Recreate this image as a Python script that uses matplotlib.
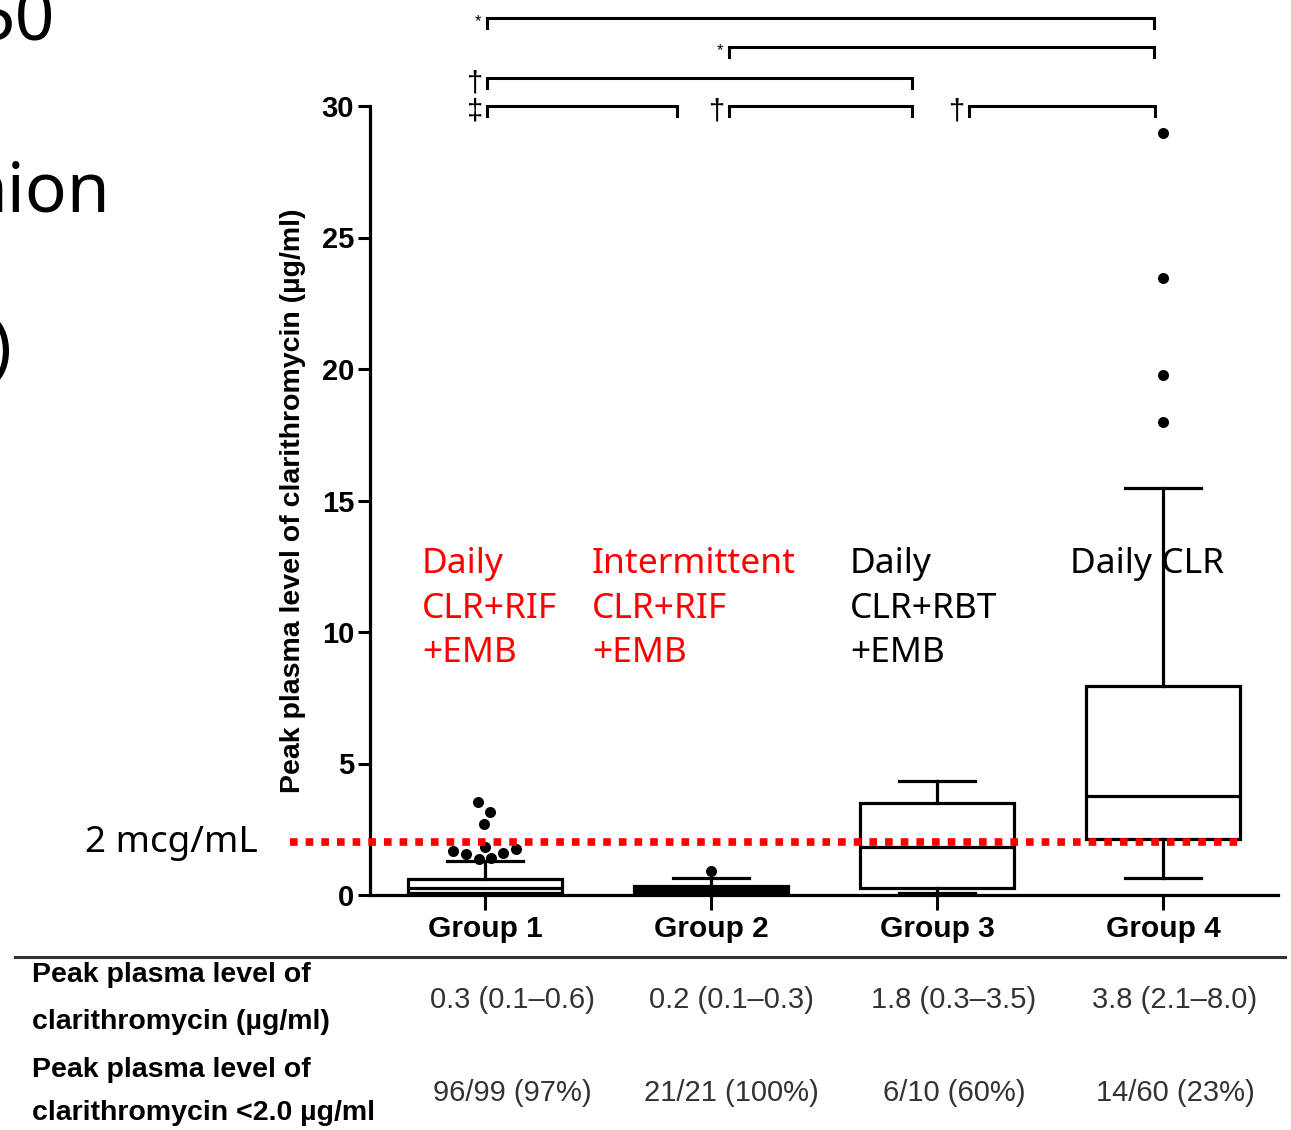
import matplotlib
matplotlib.use('Agg')
import matplotlib.pyplot as plt

# box statistics (ug/ml)
groups = ['Group 1', 'Group 2', 'Group 3', 'Group 4']
whislo = [0.0, 0.0, 0.08, 0.65]
q1 = [0.07, 0.05, 0.27, 2.13]
med = [0.25, 0.20, 1.82, 3.76]
q3 = [0.60, 0.36, 3.50, 7.95]
whishi = [1.29, 0.65, 4.33, 15.48]
fliers_y = [[3.54, 3.16, 2.70, 1.83, 1.67, 1.56, 1.37, 1.41, 1.60, 1.75],
            [0.91],
            [],
            [28.97, 23.46, 19.77, 17.98]]
fliers_dx = [[-0.031, 0.022, -0.004, 0.0, -0.142, -0.084, -0.027, 0.027, 0.080, 0.137],
             [0.0],
             [],
             [0.0, 0.0, 0.0, 0.0]]

threshold = 2.0
threshold_label = '2 mcg/mL'

# significance brackets: (start, end, level, symbol)
brackets = [(1.01, 3.96, 33.35, '*'),
            (2.08, 3.96, 32.24, '*'),
            (1.01, 2.89, 31.06, '\u2020'),
            (1.01, 1.85, 30.0, '\u2021'),
            (2.08, 2.89, 30.0, '\u2020'),
            (3.14, 3.965, 30.0, '\u2020')]

regimens = [['Daily', 'CLR+RIF', '+EMB'],
            ['Intermittent', 'CLR+RIF', '+EMB'],
            ['Daily', 'CLR+RBT', '+EMB'],
            ['Daily CLR']]
regimen_colors = ['#ff0000', '#ff0000', 'black', 'black']

row_labels = [['Peak plasma level of', 'clarithromycin (\u00b5g/ml)'],
              ['Peak plasma level of', 'clarithromycin <2.0 \u00b5g/ml']]
median_iqr = ['0.3 (0.1\u20130.6)', '0.2 (0.1\u20130.3)', '1.8 (0.3\u20133.5)', '3.8 (2.1\u20138.0)']
below_2 = ['96/99 (97%)', '21/21 (100%)', '6/10 (60%)', '14/60 (23%)']

# cut-off slide text on the left edge
slide_bits = ['50', 'nion', ')']

#########################

W, H = 1291, 1130
fig = plt.figure(figsize=(W / 100, H / 100), dpi=100)

def fx(x):
    return x / W

def fy(y):
    return 1 - y / H

ax = fig.add_axes([fx(370), fy(895), (1278 - 370) / W, (895 - 106) / H])
ax.set_xlim(0.491, 4.509)
ax.set_ylim(0, 30)

pos = [1, 2, 3, 4]
stats = []
for i in range(4):
    stats.append({'whislo': whislo[i], 'q1': q1[i], 'med': med[i], 'q3': q3[i],
                  'whishi': whishi[i], 'fliers': []})

lw = 2.3
bp = ax.bxp(stats, positions=pos, widths=0.68, capwidths=0.34, patch_artist=True,
            showfliers=False,
            boxprops=dict(linewidth=lw, edgecolor='black', facecolor='white'),
            medianprops=dict(linewidth=lw, color='black'),
            whiskerprops=dict(linewidth=lw, color='black'),
            capprops=dict(linewidth=lw, color='black'))
bp['boxes'][1].set_facecolor('black')

for i in range(4):
    xs = [pos[i] + d for d in fliers_dx[i]]
    ax.scatter(xs, fliers_y[i], s=48, color='black', zorder=4, clip_on=False)

for side in ['top', 'right']:
    ax.spines[side].set_visible(False)
for side in ['left', 'bottom']:
    ax.spines[side].set_linewidth(2.3)

ax.set_yticks([0, 5, 10, 15, 20, 25, 30])
ax.set_xticks(pos)
ax.set_xticklabels(groups)
ax.tick_params(axis='y', direction='out', length=8.5, width=2.2, pad=3)
ax.tick_params(axis='x', direction='out', length=10.5, width=2.2, pad=4)
for lab in ax.get_yticklabels():
    lab.set_family('Liberation Sans')
    lab.set_fontweight('bold')
    lab.set_fontsize(21)
for lab in ax.get_xticklabels():
    lab.set_family('Liberation Sans')
    lab.set_fontweight('bold')
    lab.set_fontsize(21.5)

ax.set_ylabel('Peak plasma level of clarithromycin (\u00b5g/ml)', family='Liberation Sans',
              fontweight='bold', fontsize=20.5, va='center')
ax.yaxis.set_label_coords(-0.085, 0.5)

# threshold line
ax.plot([0.137, 4.34], [threshold, threshold], color='#ff0000', linewidth=5.5,
        linestyle=(0, (1.0, 1.05)), dash_capstyle='butt', clip_on=False, zorder=5)
fig.text(fx(85), fy(843), threshold_label, family='Noto Sans', fontsize=26.5,
         ha='left', va='center')

# brackets
for x0, x1, y, sym in brackets:
    ax.plot([x0, x0, x1, x1], [y - 0.38, y, y, y - 0.38], color='black',
            linewidth=2.2, clip_on=False, solid_joinstyle='miter')
    if sym == '*':
        ax.text(x0 - 0.025, y - 0.3, sym, ha='right', va='baseline',
                family='Liberation Sans', fontsize=12)
    else:
        ax.text(x0 - 0.02, y - 0.5, sym, ha='right', va='baseline',
                family='Liberation Sans', fontsize=21)

# regimen annotations
reg_x = [422, 592, 850, 1070]
for i in range(4):
    for j, line in enumerate(regimens[i]):
        fig.text(fx(reg_x[i]), fy(573 + 44.5 * j), line, family='Noto Sans',
                 fontsize=25.5, color=regimen_colors[i], ha='left', va='baseline')

# table below
fig.add_artist(plt.Line2D([fx(15), fx(1285)], [fy(957), fy(957)], color='#333333',
                          linewidth=2.2))
col_x = [512, 731, 954, 1175]
row_y = [(975, 1022, 1000), (1070, 1113, 1093)]
values = [median_iqr, below_2]
for r in range(2):
    l1, l2, vy = row_y[r]
    fig.text(fx(32), fy(l1), row_labels[r][0], family='Liberation Sans',
             fontweight='bold', fontsize=20.5, ha='left', va='center')
    fig.text(fx(32), fy(l2), row_labels[r][1], family='Liberation Sans',
             fontweight='bold', fontsize=20.5, ha='left', va='center')
    for c in range(4):
        fig.text(fx(col_x[c]), fy(vy), values[r][c], family='Liberation Sans',
                 fontsize=21, color='#333333', ha='center', va='center')

# pieces of slide text cut off by the left edge
fig.text(fx(55), fy(40), slide_bits[0], family='Noto Sans', fontsize=50,
         ha='right', va='baseline')
fig.text(fx(110), fy(211), slide_bits[1], family='Noto Sans', fontsize=50,
         ha='right', va='baseline')
fig.text(fx(12), fy(352), slide_bits[2], family='Noto Sans', fontsize=50,
         ha='right', va='center')

plt.savefig('out.png', dpi=100)
